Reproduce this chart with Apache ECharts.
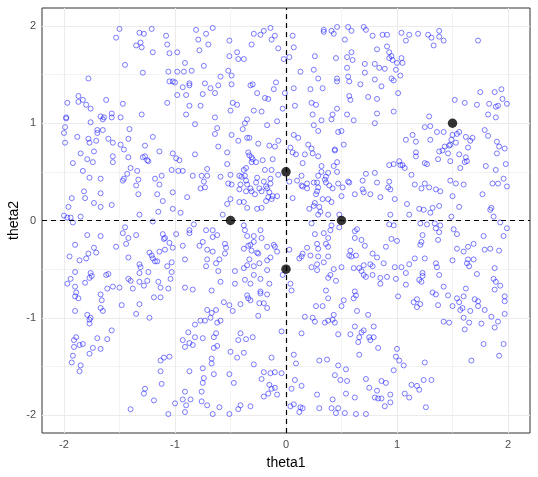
<!DOCTYPE html>
<html>
<head>
<meta charset="utf-8">
<script src="https://cdn.jsdelivr.net/npm/echarts@6/dist/echarts.min.js"></script>
<style>
  html, body { margin: 0; padding: 0; background: #fff; }
  #chart { width: 538px; height: 477px; }
</style>
</head>
<body>
<div id="chart"></div>
<script>
// tick labels
const xTicks = [-2, -1, 0, 1, 2]
const yTicks = [-2, -1, 0, 1, 2]
const minorTicks = [-1.5, -0.5, 0.5, 1.5]

// highlighted points (black)
const markedPoints = [[-0.5, 0], [0, 0.5], [0, -0.5], [0.5, 0], [1.5, 1]]

const thetaSamples = [
  [-1.50,1.97],[-1.53,1.88],[-1.32,1.93],[-1.28,1.92],[-1.21,1.97],[-1.31,1.83],[-1.35,1.80],[-1.30,1.78],
  [-1.20,1.73],[-1.45,1.60],[-1.29,1.52],[-1.78,1.46],[-1.87,1.28],[-1.97,1.21],[-1.87,1.22],[-1.83,1.24],
  [-1.80,1.19],[-1.76,1.15],[-1.62,1.24],[-1.47,1.20],[-1.98,1.06],[-1.98,1.05],[-1.67,1.07],[-1.64,1.06],
  [-1.65,1.04],[-1.57,1.10],[-1.57,1.06],[-1.49,1.06],[-1.30,1.09],[-1.76,1.01],[-1.99,0.96],[-2.00,0.90],
  [-1.88,0.86],[-1.78,0.84],[-1.77,0.80],[-1.71,0.82],[-1.70,0.93],[-1.70,0.90],[-1.65,0.93],[-1.60,0.84],
  [-1.56,0.80],[-1.49,0.78],[-1.41,0.94],[-1.42,0.84],[-1.99,0.80],[-1.20,0.86],[-1.27,0.77],[-1.46,0.73],

  [-0.81,1.96],[-0.66,1.98],[-0.72,1.92],[-0.79,1.86],[-1.08,1.90],[-1.07,1.81],[-1.05,1.72],[-0.98,1.73],
  [-0.70,1.81],[-0.78,1.75],[-0.91,1.62],[-0.74,1.59],[-1.06,1.53],[-0.98,1.53],[-0.92,1.53],[-0.85,1.54],
  [-1.05,1.43],[-1.02,1.43],[-1.00,1.42],[-0.93,1.37],[-0.87,1.41],[-0.87,1.39],[-0.73,1.41],[-0.68,1.36],
  [-0.61,1.39],[-0.59,1.48],[-0.64,1.31],[-0.75,1.30],[-0.98,1.29],[-0.90,1.29],[-1.07,1.21],[-0.87,1.18],
  [-0.77,1.18],[-0.90,1.09],[-0.82,0.99],[-0.64,1.06],[-0.51,1.85],[-0.51,1.69],[-0.44,1.73],[-0.43,1.66],
  [-0.38,1.66],[-0.52,1.54],[-0.49,1.49],[-0.49,1.40],[-0.31,1.81],[-0.29,1.92],[-0.23,1.91],[-0.20,1.95],
  [-0.14,1.98],[-0.10,1.90],[-0.13,1.86],[-0.07,1.77],[-0.02,1.66],[-0.32,1.39],[-0.30,1.40],[-0.09,1.42],
  [-0.11,1.35],[-0.26,1.31],[-0.19,1.26],[-0.16,1.25],[-0.01,1.31],[-0.48,1.21],[-0.44,1.19],[-0.50,1.13],
  [-0.29,1.13],[-0.22,1.12],[-0.03,1.15],[-0.35,1.04],[-0.37,1.00],[-0.62,0.95],[-0.64,0.89],[-0.49,0.88],
  [-0.39,0.94],[-0.35,0.85],[-0.33,0.85],[-0.43,0.82],[-0.17,0.98],[-0.08,1.02],[-0.07,0.82],[-0.25,0.79],
  [-0.15,0.77],[-0.10,0.76],[-0.61,0.76],

  [0.06,1.90],[0.07,1.78],[0.03,1.68],[0.34,1.96],[0.34,1.94],[0.41,1.95],[0.43,1.92],[0.46,1.99],
  [0.56,1.99],[0.59,1.95],[0.53,1.86],[0.70,1.99],[0.72,1.96],[0.78,1.90],[0.87,1.91],[0.91,1.91],
  [1.04,1.93],[1.08,1.85],[0.26,1.69],[0.45,1.67],[0.55,1.68],[0.59,1.73],[0.60,1.65],[0.82,1.76],
  [0.91,1.79],[0.93,1.73],[0.95,1.69],[0.93,1.67],[0.96,1.65],[1.00,1.62],[1.04,1.67],[1.05,1.62],
  [0.13,1.53],[0.25,1.55],[0.29,1.46],[0.46,1.46],[0.46,1.43],[0.55,1.57],[0.56,1.48],[0.57,1.43],
  [0.71,1.61],[0.71,1.52],[0.80,1.61],[0.84,1.57],[0.89,1.56],[0.99,1.55],[1.03,1.49],[0.95,1.46],
  [0.97,1.44],[0.80,1.45],[0.67,1.40],[0.86,1.38],[0.07,1.36],[0.22,1.35],[0.33,1.36],[0.08,1.18],
  [0.23,1.21],[0.27,1.19],[0.57,1.28],[0.58,1.24],[0.74,1.27],[0.82,1.25],[1.01,1.31],[0.24,1.09],
  [0.42,1.09],[0.46,1.15],[0.55,1.09],[0.82,1.10],[0.97,1.12],[0.32,1.03],[0.41,1.04],[0.61,1.03],
  [0.80,1.00],[0.25,0.98],[0.29,0.92],[0.47,0.91],[0.50,0.92],[0.07,0.88],[0.11,0.85],[0.20,0.78],
  [0.23,0.74],[0.04,0.75],[0.52,0.78],[0.44,0.73],[1.08,0.83],

  [1.11,1.91],[1.19,1.92],[1.28,1.91],[1.31,1.88],[1.38,1.95],[1.38,1.89],[1.42,1.85],[1.33,1.80],
  [1.73,1.85],[1.75,1.32],[1.88,1.32],[1.94,1.35],[1.95,1.25],[1.52,1.24],[1.61,1.21],[1.72,1.19],
  [1.83,1.20],[1.89,1.17],[1.91,1.18],[1.99,1.20],[1.82,1.09],[1.89,1.06],[1.29,1.07],[1.25,0.96],
  [1.30,0.97],[1.36,0.91],[1.42,0.91],[1.56,0.91],[1.54,0.89],[1.50,0.88],[1.79,0.93],[1.82,0.87],
  [1.14,0.88],[1.17,0.81],[1.30,0.83],[1.49,0.83],[1.62,0.86],[1.68,0.85],[1.66,0.82],[1.53,0.80],
  [1.48,0.78],[1.47,0.77],[1.43,0.76],[1.90,0.81],[1.92,0.76],[1.97,0.74],[1.64,0.75],

  [-1.85,0.69],[-1.73,0.71],[-1.92,0.59],[-1.79,0.63],[-1.74,0.60],[-1.56,0.66],[-1.56,0.60],[-1.42,0.65],
  [-1.29,0.65],[-1.27,0.66],[-1.25,0.62],[-1.24,0.61],[-1.14,0.71],[-1.83,0.51],[-1.40,0.54],[-1.34,0.51],
  [-1.77,0.44],[-1.67,0.43],[-1.43,0.48],[-1.46,0.43],[-1.47,0.41],[-1.33,0.42],[-1.18,0.43],[-1.12,0.46],
  [-1.35,0.36],[-1.14,0.37],[-1.82,0.30],[-1.67,0.28],[-1.33,0.27],[-1.16,0.27],[-1.93,0.23],[-1.81,0.23],
  [-1.73,0.18],[-1.57,0.16],[-1.67,0.14],[-1.96,0.14],[-1.11,0.20],[-1.15,0.09],[-1.32,0.06],[-2.00,0.05],
  [-1.97,0.03],[-1.94,0.03],[-1.92,-0.02],[-1.85,0.04],[-1.20,-0.01],[-1.45,-0.07],[-1.47,-0.13],[-1.42,-0.18],
  [-1.35,-0.15],[-1.79,-0.15],[-1.67,-0.16],[-1.44,-0.24],[-1.53,-0.27],[-1.11,-0.14],[-1.10,-0.19],[-1.90,-0.25],
  [-1.73,-0.28],[-1.71,-0.33],[-1.78,-0.34],[-1.95,-0.37],[-1.86,-0.41],[-1.80,-0.39],[-1.42,-0.38],[-1.23,-0.33],
  [-1.21,-0.36],[-1.20,-0.39],[-1.18,-0.42],[-1.16,-0.42],[-1.14,-0.32],[-1.32,-0.45],[-1.31,-0.48],[-1.90,-0.53],
  [-1.76,-0.54],[-1.75,-0.57],[-1.77,-0.59],[-1.62,-0.56],[-1.60,-0.55],[-1.94,-0.60],[-1.97,-0.65],[-1.81,-0.64],
  [-1.90,-0.68],[-1.42,-0.60],[-1.40,-0.62],[-1.32,-0.54],[-1.24,-0.53],[-1.32,-0.63],[-1.25,-0.62],[-1.28,-0.67],
  [-1.38,-0.70],[-1.50,-0.69],[-1.56,-0.68],[-1.61,-0.70],[-1.15,-0.63],[-1.13,-0.69],

  [-1.02,0.69],[-0.99,0.64],[-0.96,0.62],[-0.82,0.68],[-0.53,0.70],[-0.53,0.58],[-1.03,0.52],[-0.97,0.51],
  [-0.93,0.51],[-0.84,0.46],[-0.76,0.46],[-0.71,0.46],[-0.74,0.40],[-0.71,0.53],[-0.59,0.45],[-0.73,0.34],
  [-0.77,0.33],[-0.52,0.38],[-0.49,0.37],[-0.50,0.47],[-0.42,0.46],[-0.40,0.45],[-0.37,0.46],[-0.36,0.41],
  [-0.35,0.37],[-0.41,0.37],[-0.42,0.32],[-0.36,0.30],[-0.32,0.33],[-0.31,0.30],[-0.28,0.27],[-0.27,0.39],
  [-0.26,0.44],[-0.20,0.40],[-0.18,0.35],[-0.14,0.38],[-0.14,0.43],[-0.24,0.33],[-0.22,0.30],[-0.17,0.33],
  [-0.15,0.29],[-0.16,0.24],[-0.13,0.22],[-0.12,0.25],[-0.08,0.25],[-0.18,0.20],[-0.07,0.47],[-0.13,0.52],
  [-0.19,0.52],[-0.12,0.63],[-0.21,0.62],[-0.27,0.60],[-0.31,0.60],[-0.30,0.63],[-0.34,0.70],[-0.33,0.67],
  [-0.31,0.65],[-0.38,0.52],[-0.36,0.54],[-0.50,0.22],[-0.42,0.19],[-0.38,0.19],[-0.53,0.17],[-0.35,0.13],
  [-0.26,0.12],[-0.22,0.13],[-0.57,0.06],[-0.89,0.24],[-1.02,0.29],[-1.02,0.12],[-0.95,0.08],[-0.83,-0.04],
  [-0.87,-0.10],[-0.87,-0.13],[-0.72,-0.10],[-0.66,-0.10],[-0.66,-0.17],[-0.62,-0.15],[-0.99,-0.14],[-1.09,-0.18],
  [-1.05,-0.23],[-0.93,-0.26],[-1.02,-0.28],[-1.09,-0.30],[-0.75,-0.22],[-0.78,-0.26],[-0.71,-0.30],[-0.66,-0.32],
  [-0.55,-0.24],[-0.54,-0.28],[-0.55,-0.34],[-0.38,-0.05],[-0.37,-0.10],[-0.35,-0.16],[-0.29,-0.16],[-0.23,-0.10],
  [-0.22,-0.18],[-0.29,-0.22],[-0.32,-0.25],[-0.34,-0.26],[-0.38,-0.29],[-0.31,-0.31],[-0.26,-0.33],[-0.25,-0.34],
  [-0.17,-0.27],[-0.11,-0.25],[-0.10,-0.27],[-0.08,-0.32],[-0.14,-0.38],[-0.17,-0.41],[-0.33,-0.40],[-0.24,-0.44],
  [-0.29,-0.47],[-0.38,-0.49],[-0.35,-0.46],[-0.46,-0.52],[-0.91,-0.40],[-0.71,-0.40],[-0.63,-0.44],[-0.60,-0.40],
  [-0.72,-0.47],[-0.61,-0.52],[-1.03,-0.43],[-1.07,-0.47],[-1.03,-0.53],[-1.04,-0.60],[-0.59,-0.63],[-0.37,-0.61],
  [-0.32,-0.65],[-0.46,-0.65],[-0.29,-0.56],[-0.23,-0.60],[-0.17,-0.51],[-0.03,-0.56],[-0.15,-0.65],[-1.06,-0.70],
  [-0.91,-0.69],[-0.84,-0.71],[-0.67,-0.72],[-0.23,-0.73],

  [0.06,0.70],[0.09,0.68],[0.17,0.68],[0.24,0.69],[0.29,0.66],[0.44,0.72],[0.15,0.59],[0.32,0.56],
  [0.32,0.50],[0.38,0.49],[0.43,0.56],[0.46,0.60],[0.46,0.50],[0.29,0.46],[0.36,0.45],[0.35,0.42],
  [0.36,0.39],[0.14,0.46],[0.03,0.40],[0.10,0.41],[0.14,0.36],[0.15,0.35],[0.19,0.38],[0.19,0.33],
  [0.25,0.39],[0.28,0.39],[0.29,0.34],[0.28,0.30],[0.27,0.27],[0.39,0.36],[0.47,0.38],[0.42,0.33],
  [0.51,0.34],[0.50,0.25],[0.56,0.40],[0.57,0.39],[0.62,0.27],[0.69,0.41],[0.69,0.32],[0.70,0.29],
  [0.76,0.27],[0.72,0.48],[0.80,0.49],[0.82,0.39],[0.85,0.24],[0.93,0.57],[0.97,0.58],[1.02,0.61],
  [1.03,0.57],[1.07,0.54],[1.05,0.57],[0.93,0.40],[0.92,0.34],[0.94,0.32],[0.98,0.22],[1.09,0.17],
  [0.06,0.23],[0.33,0.22],[0.38,0.22],[0.41,0.19],[0.25,0.15],[0.30,0.14],[0.26,0.18],[0.31,0.09],
  [0.29,0.06],[0.38,0.06],[0.48,0.06],[0.94,0.06],[0.21,0.12],[0.23,-0.03],[0.41,-0.05],[0.40,-0.10],
  [0.48,-0.07],[0.62,-0.11],[0.64,-0.09],[0.93,-0.04],[0.97,-0.05],[0.26,-0.14],[0.34,-0.13],[0.38,-0.18],
  [0.62,-0.18],[0.68,-0.20],[0.71,-0.26],[0.95,-0.19],[1.00,-0.21],[0.90,-0.27],[0.36,-0.24],[0.38,-0.27],
  [0.28,-0.24],[0.29,-0.29],[0.19,-0.28],[0.03,-0.30],[0.15,-0.34],[0.14,-0.37],[0.12,-0.39],[0.22,-0.36],
  [0.29,-0.37],[0.38,-0.37],[0.58,-0.31],[0.57,-0.36],[0.59,-0.37],[0.63,-0.36],[0.78,-0.34],[0.82,-0.38],
  [0.88,-0.44],[0.70,-0.46],[0.76,-0.45],[0.78,-0.47],[0.28,-0.45],[0.34,-0.43],[0.23,-0.48],[0.28,-0.51],
  [0.43,-0.50],[0.50,-0.48],[0.61,-0.49],[0.66,-0.49],[0.68,-0.52],[0.40,-0.56],[0.38,-0.59],[0.45,-0.62],
  [0.70,-0.56],[0.72,-0.58],[0.78,-0.56],[0.85,-0.59],[0.91,-0.58],[0.85,-0.65],[0.98,-0.48],[1.04,-0.48],
  [1.08,-0.54],[0.99,-0.60],[1.08,-0.66],[0.04,-0.65],[0.05,-0.72],[0.36,-0.72],[0.62,-0.73],

  [1.17,0.70],[1.17,0.66],[1.38,0.71],[1.41,0.72],[1.46,0.69],[1.56,0.68],[1.62,0.65],[1.63,0.61],
  [1.61,0.60],[1.48,0.61],[1.37,0.63],[1.25,0.59],[1.27,0.58],[1.57,0.54],[1.80,0.56],[1.89,0.52],
  [1.98,0.58],[1.90,0.69],[1.13,0.47],[1.16,0.37],[1.22,0.33],[1.25,0.38],[1.29,0.34],[1.35,0.32],
  [1.39,0.30],[1.48,0.41],[1.53,0.38],[1.60,0.37],[1.50,0.25],[1.77,0.27],[1.86,0.38],[1.91,0.38],
  [1.96,0.43],[1.99,0.35],[1.20,0.12],[1.24,0.11],[1.30,0.08],[1.32,0.13],[1.38,0.15],[1.56,0.14],
  [1.84,0.11],[1.85,0.13],[1.87,0.04],[1.11,0.06],[1.49,0.04],[1.21,-0.03],[1.27,-0.04],[1.34,-0.03],
  [1.39,-0.05],[1.35,-0.08],[1.38,-0.12],[1.51,-0.09],[1.54,-0.14],[1.93,-0.02],[1.99,-0.08],[1.96,-0.16],
  [1.78,-0.16],[1.23,-0.15],[1.37,-0.20],[1.22,-0.22],[1.21,-0.25],[1.54,-0.29],[1.60,-0.32],[1.64,-0.27],
  [1.69,-0.24],[1.79,-0.30],[1.84,-0.29],[1.92,-0.31],[1.16,-0.39],[1.25,-0.39],[1.50,-0.41],[1.64,-0.40],
  [1.69,-0.40],[1.63,-0.44],[1.65,-0.47],[1.35,-0.44],[1.36,-0.48],[1.11,-0.45],[1.88,-0.49],[1.72,-0.55],
  [1.38,-0.56],[1.23,-0.54],[1.23,-0.57],[1.20,-0.61],[1.22,-0.63],[1.87,-0.60],[1.89,-0.63],[1.93,-0.67],
  [1.88,-0.71],[1.42,-0.68],[1.62,-0.70],

  [-1.89,-0.74],[-1.90,-0.78],[-1.87,-0.80],[-1.67,-0.76],[-1.66,-0.82],[-1.67,-0.90],[-1.65,-0.93],[-1.90,-0.93],
  [-1.79,-0.97],[-1.76,-1.00],[-1.77,-1.02],[-1.77,-1.06],[-1.48,-0.87],[-1.32,-0.86],[-1.35,-0.96],[-1.23,-1.00],
  [-1.19,-0.79],[-1.13,-0.79],[-1.89,-1.20],[-1.91,-1.23],[-1.86,-1.28],[-1.83,-1.27],[-1.91,-1.30],[-1.92,-1.39],
  [-1.93,-1.46],[-1.85,-1.49],[-1.86,-1.55],[-1.77,-1.37],[-1.74,-1.31],[-1.67,-1.32],[-1.70,-1.21],[-1.61,-1.22],
  [-1.57,-1.13],[-1.13,-1.44],[-1.10,-1.41],[-1.13,-1.55],[-1.12,-1.68],[-1.27,-1.73],[-1.28,-1.78],[-1.19,-1.85],
  [-1.40,-1.94],

  [-0.35,-0.77],[-0.34,-0.80],[-0.32,-0.82],[-0.23,-0.75],[-0.17,-0.76],[-0.56,-0.84],[-0.51,-0.87],[-0.48,-0.93],
  [-0.41,-0.86],[-0.24,-0.85],[-0.20,-0.85],[-0.17,-0.90],[-0.25,-0.98],[-0.71,-0.92],[-0.67,-0.95],[-0.63,-0.92],
  [-0.68,-1.00],[-0.77,-1.03],[-0.73,-1.03],[-0.62,-1.05],[-0.59,-1.03],[-0.82,-1.07],[-0.88,-1.15],[-0.93,-1.23],
  [-0.87,-1.26],[-0.84,-1.28],[-0.82,-1.20],[-0.75,-1.21],[-0.65,-1.20],[-0.63,-1.16],[-0.91,-1.30],[-0.65,-1.31],
  [-0.62,-1.29],[-0.41,-1.16],[-0.43,-1.23],[-0.36,-1.22],[-0.30,-1.20],[-0.50,-1.35],[-0.38,-1.36],[-0.44,-1.41],
  [-0.29,-1.48],[-0.67,-1.42],[-0.67,-1.47],[-1.05,-1.40],[-0.13,-1.41],[-0.04,-1.14],[-0.87,-1.55],[-0.75,-1.52],
  [-0.65,-1.58],[-0.51,-1.58],[-0.74,-1.62],[-0.75,-1.67],[-0.47,-1.67],[-0.20,-1.56],[-0.22,-1.63],[-0.14,-1.57],
  [-0.10,-1.56],[-0.04,-1.57],[-0.15,-1.69],[-0.13,-1.73],[-0.10,-1.72],[-0.16,-1.78],[-0.20,-1.81],[-0.08,-1.79],
  [-0.91,-1.76],[-0.76,-1.76],[-0.93,-1.84],[-0.86,-1.84],[-0.76,-1.86],[-0.90,-1.90],[-0.71,-1.90],[-0.91,-1.97],
  [-1.00,-1.88],[-1.06,-1.99],[-0.66,-1.99],[-0.60,-1.92],[-0.51,-1.99],[-0.43,-1.94],[-0.41,-1.90],[-0.32,-1.91],

  [0.38,-0.80],[0.52,-0.82],[0.50,-0.88],[0.61,-0.80],[0.63,-0.77],[0.27,-0.88],[0.33,-0.88],[0.64,-0.93],
  [1.01,-0.78],[0.17,-0.99],[0.24,-1.00],[0.26,-1.04],[0.35,-1.05],[0.38,-1.03],[0.43,-0.97],[0.42,-1.02],
  [0.44,-1.05],[0.74,-0.97],[0.62,-1.09],[0.79,-1.09],[0.68,-1.15],[0.70,-1.13],[0.14,-1.16],[0.47,-1.17],
  [0.58,-1.17],[0.66,-1.20],[0.65,-1.25],[0.75,-1.20],[0.76,-1.23],[0.79,-1.20],[0.83,-1.31],[0.66,-1.38],
  [0.07,-1.38],[0.09,-1.47],[0.30,-1.44],[0.37,-1.43],[0.47,-1.49],[0.54,-1.53],[0.44,-1.59],[0.49,-1.64],
  [0.55,-1.65],[0.72,-1.63],[0.75,-1.72],[0.86,-1.65],[0.90,-1.67],[0.82,-1.75],[0.54,-1.78],[0.28,-1.79],
  [0.08,-1.64],[0.14,-1.70],[0.05,-1.73],[0.62,-1.82],[0.80,-1.82],[0.83,-1.83],[0.86,-1.83],[0.94,-1.79],
  [0.94,-1.87],[0.89,-1.91],[1.00,-1.32],[0.99,-1.40],[1.02,-1.44],[1.06,-1.49],[0.97,-1.54],[1.07,-1.78],
  [0.42,-1.84],[0.04,-1.91],[0.07,-1.89],[0.13,-1.92],[0.15,-1.93],[0.12,-1.97],[0.30,-1.93],[0.41,-1.93],
  [0.47,-1.93],[0.45,-1.98],[0.53,-1.98],[0.63,-1.99],[0.72,-1.99],

  [1.32,-0.74],[1.35,-0.76],[1.46,-0.77],[1.54,-0.80],[1.56,-0.84],[1.60,-0.78],[1.70,-0.81],[1.73,-0.83],
  [1.97,-0.78],[1.97,-0.83],[1.15,-0.84],[1.18,-0.81],[1.21,-0.86],[1.18,-0.89],[1.37,-0.87],[1.50,-0.88],
  [1.57,-0.92],[1.59,-0.90],[1.73,-0.88],[1.66,-0.93],[1.79,-0.92],[1.97,-0.96],[1.85,-0.99],[1.60,-1.00],
  [1.42,-1.04],[1.47,-1.05],[1.65,-1.05],[1.76,-1.06],[1.91,-1.04],[1.88,-1.10],[1.61,-1.12],[1.78,-1.27],
  [1.96,-1.27],[1.92,-1.39],[1.67,-1.44],[1.25,-1.46],[1.24,-1.64],[1.31,-1.64],[1.13,-1.69],[1.18,-1.70],
  [1.20,-1.74],[1.11,-1.82],[1.26,-1.92]
]

const myChart = echarts.init(document.getElementById("chart"))

const gridColor = "#EBEBEB"
const fontFamily = "'Liberation Sans', Arial, sans-serif"

const option = {
  animation: false,
  backgroundColor: "#ffffff",
  grid: {
    left: 42,
    right: 8,
    top: 8,
    bottom: 44,
    outerBoundsMode: "none",
    containLabel: false,
    show: true,
    borderColor: "#333333",
    borderWidth: 1,
    backgroundColor: "#ffffff",
  },
  xAxis: {
    type: "value",
    min: -2.198,
    max: 2.198,
    name: "theta1",
    nameLocation: "middle",
    nameGap: 23,
    nameMoveOverlap: false,
    nameTextStyle: { color: "#000", fontSize: 14, fontFamily },
    axisLine: { show: false },
    axisTick: {
      show: true,
      customValues: xTicks,
      length: 3,
      lineStyle: { color: "#333333" },
    },
    axisLabel: {
      customValues: xTicks,
      color: "#4D4D4D",
      fontSize: 11,
      margin: 6,
      fontFamily,
    },
    splitLine: { show: false },
  },
  yAxis: {
    type: "value",
    min: -2.185,
    max: 2.185,
    name: "theta2",
    nameLocation: "middle",
    nameGap: 21,
    nameMoveOverlap: false,
    nameRotate: 90,
    nameTextStyle: { color: "#000", fontSize: 14, fontFamily },
    axisLine: { show: false },
    axisTick: {
      show: true,
      customValues: yTicks,
      length: 3,
      lineStyle: { color: "#333333" },
    },
    axisLabel: {
      customValues: yTicks,
      color: "#4D4D4D",
      fontSize: 11,
      margin: 6,
      fontFamily,
    },
    splitLine: { show: false },
  },
  series: [
    {
      // grid lines, kept under the points
      type: "scatter",
      data: [],
      silent: true,
      z: 1,
      markLine: {
        silent: true,
        z: 1,
        symbol: ["none", "none"],
        label: { show: false },
        animation: false,
        data: [
          ...minorTicks.map((v) => ({ xAxis: v, lineStyle: { color: gridColor, width: 0.6, type: "solid" } })),
          ...minorTicks.map((v) => ({ yAxis: v, lineStyle: { color: gridColor, width: 0.6, type: "solid" } })),
          ...xTicks.map((v) => ({ xAxis: v, lineStyle: { color: gridColor, width: 1.1, type: "solid" } })),
          ...yTicks.map((v) => ({ yAxis: v, lineStyle: { color: gridColor, width: 1.1, type: "solid" } })),
        ],
      },
    },
    {
      type: "scatter",
      data: thetaSamples,
      symbol: "circle",
      symbolSize: 5,
      silent: true,
      itemStyle: {
        color: "transparent",
        borderColor: "rgba(30,30,255,0.8)",
        borderWidth: 0.9,
      },
      z: 2,
    },
    {
      // dashed reference lines at 0
      type: "scatter",
      data: [],
      z: 3,
      markLine: {
        silent: true,
        z: 3,
        symbol: ["none", "none"],
        label: { show: false },
        animation: false,
        lineStyle: { color: "#000", width: 1.2, type: [5, 4] },
        data: [{ xAxis: 0 }, { yAxis: 0 }],
      },
    },
    {
      type: "scatter",
      data: markedPoints,
      symbol: "circle",
      symbolSize: 9.5,
      silent: true,
      itemStyle: { color: "#000", borderWidth: 0 },
      z: 4,
    },
  ],
}

myChart.setOption(option)
</script>
</body>
</html>
